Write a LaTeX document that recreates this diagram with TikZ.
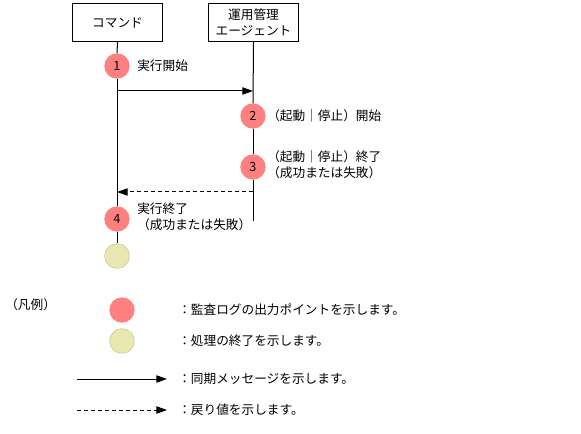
\documentclass[tikz,border=0pt]{standalone}
\usepackage{fontspec}
\setmainfont{Noto Sans CJK JP}
\usetikzlibrary{arrows.meta, positioning}
\definecolor{logpoint}{RGB}{255,128,128}
\definecolor{endpoint}{RGB}{232,232,176}
\definecolor{endline}{RGB}{205,205,150}
\tikzset{
  lifebox/.style={rectangle, draw=black, line width=0.75pt, fill=white, align=center,
    minimum width=67.5pt, minimum height=28.5pt, inner sep=0pt,
    font=\fontsize{9.5}{12}\selectfont},
  logdot/.style={circle, fill=logpoint, minimum size=19pt, inner sep=0pt,
    font=\fontsize{9.5}{10}\selectfont},
  enddot/.style={circle, fill=endpoint, draw=endline, line width=0.5pt, minimum size=18.5pt, inner sep=0pt},
  note/.style={align=left, anchor=west, inner sep=0pt, font=\fontsize{9.5}{12}\selectfont},
  lifeline/.style={draw=black, line width=0.75pt},
  syncarrow/.style={-{Triangle[length=8pt,width=5.5pt]}, line width=0.75pt},
  retarrow/.style={syncarrow, dash pattern=on 3pt off 2.25pt}
}

\begin{document}
\begin{tikzpicture}[x=0.75pt, y=-0.75pt]
  \useasboundingbox (0,0) rectangle (581,434);

  % lifeline heads
  \node[lifebox] (cmd) at (117.5,22.5) {コマンド};
  \node[lifebox] (agent) at (253.5,22.5) {運用管理\\エージェント};

  % audit log points
  \node[logdot] (p1) at (117,66) {1};
  \node[logdot] (p2) at (253,116) {2};
  \node[logdot] (p3) at (253,167) {3};
  \node[logdot] (p4) at (117,219) {4};
  \node[enddot] (done) at (117,256) {};

  \node[note] (t1) at (137,66) {実行開始};
  \node[note] (t2) at (267,116) {（起動｜停止）開始};
  \node[note] (t3) at (267,165) {（起動｜停止）終了\\（成功または失敗）};
  \node[note] (t4) at (137,217) {実行終了\\（成功または失敗）};

  \coordinate (cmdcall) at (117,91);
  \coordinate (agentcall) at (253,91);
  \coordinate (agentret) at (253,192);
  \coordinate (cmdret) at (117,192);
  \coordinate (agentend) at (253,221);

  \draw[lifeline] (cmd.south) -- (p1.north);
  \draw[lifeline] (p1.south) -- (p4.north);
  \draw[lifeline] (p4.south) -- (done.north);
  \draw[lifeline] (agent.south) -- (p2.north);
  \draw[lifeline] (p2.south) -- (p3.north);
  \draw[lifeline] (p3.south) -- (agentend);

  \draw[syncarrow] (cmdcall) -- (agentcall);
  \draw[retarrow] (agentret) -- (cmdret);

  % legend
  \node[note] (legend) at (5,305) {（凡例）};
  \node[logdot] (keylog) at (122,310) {};
  \node[enddot] (keyend) at (122,341) {};
  \coordinate (syncA) at (77,379);
  \coordinate (syncB) at (167,379);
  \coordinate (retA) at (77,410);
  \coordinate (retB) at (167,410);
  \draw[syncarrow] (syncA) -- (syncB);
  \draw[retarrow] (retA) -- (retB);

  \node[note] (klog) at (178,310) {：監査ログの出力ポイントを示します。};
  \node[note] (kend) at (178,341) {：処理の終了を示します。};
  \node[note] (ksync) at (178,379) {：同期メッセージを示します。};
  \node[note] (kret) at (178,410) {：戻り値を示します。};
\end{tikzpicture}
\end{document}
